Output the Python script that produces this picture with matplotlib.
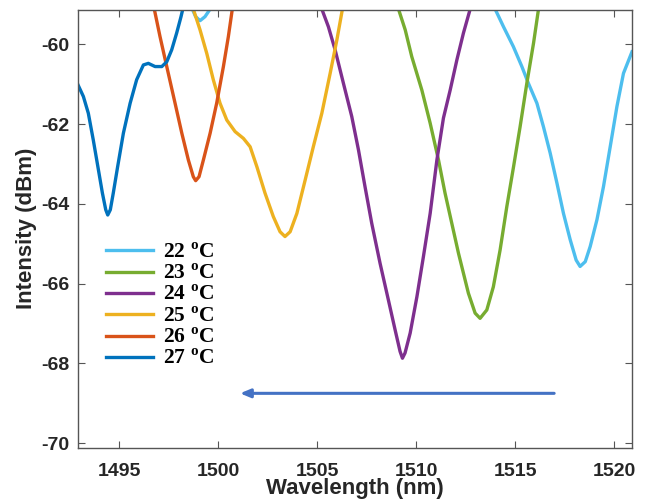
import numpy as np
import matplotlib
matplotlib.use("Agg")
import matplotlib.pyplot as plt

plt.rcParams['axes.unicode_minus'] = False
plt.rcParams['mathtext.fontset'] = 'custom'
plt.rcParams['mathtext.rm'] = 'Liberation Serif:bold'
plt.rcParams['mathtext.bf'] = 'Liberation Serif:bold'

# Data (wavelength nm, intensity dBm); nan splits segments
wl_22 = [1498.70, 1498.87, 1499.09, 1499.34, 1499.60, np.nan,
         1513.99, 1514.41, 1514.91, 1515.34, 1515.67, 1516.10, 1516.43, 1516.77,
         1517.11, 1517.44, 1517.78, 1518.08, 1518.28, 1518.54, 1518.79, 1519.13,
         1519.46, 1519.80, 1520.14, 1520.47, 1520.90]
db_22 = [-59.12, -59.31, -59.41, -59.31, -59.12, np.nan,
         -59.12, -59.56, -60.06, -60.56, -60.98, -61.48, -62.07, -62.73,
         -63.48, -64.24, -64.90, -65.41, -65.57, -65.45, -65.07, -64.40,
         -63.57, -62.57, -61.56, -60.73, -60.19]

wl_23 = [1509.11, 1509.45, 1509.78, 1510.29, 1510.71, 1511.13, 1511.46, 1512.14,
         1512.64, 1512.98, 1513.23, 1513.57, 1513.90, 1514.24, 1514.58, 1514.92,
         1515.25, 1515.59, 1515.93, 1516.18]
db_23 = [-59.12, -59.64, -60.31, -61.15, -61.98, -62.90, -63.73, -65.24,
         -66.24, -66.74, -66.87, -66.66, -66.08, -65.16, -64.07, -63.07,
         -62.07, -60.98, -59.97, -59.12]

wl_24 = [1505.24, 1505.57, 1505.91, 1506.33, 1506.75, 1507.09, 1507.42, 1507.76,
         1508.18, 1508.60, 1508.94, 1509.19, 1509.31, 1509.44, 1509.70, 1510.04,
         1510.37, 1510.71, 1511.05, 1511.38, 1511.72, 1512.06, 1512.39, 1512.73]
db_24 = [-59.12, -59.56, -60.14, -60.98, -61.81, -62.65, -63.57, -64.49,
         -65.49, -66.41, -67.16, -67.70, -67.87, -67.74, -67.24, -66.33,
         -65.32, -64.24, -62.90, -61.85, -61.15, -60.39, -59.72, -59.12]

wl_25 = [1498.75, 1499.09, 1499.43, 1499.76, 1500.10, 1500.44, 1500.86, 1501.28,
         1501.62, 1501.96, 1502.37, 1502.79, 1503.13, 1503.38, 1503.64, 1503.98,
         1504.40, 1504.81, 1505.24, 1505.66, 1506.00, 1506.28]
db_25 = [-59.12, -59.64, -60.23, -60.89, -61.48, -61.90, -62.19, -62.36,
         -62.57, -63.07, -63.73, -64.32, -64.70, -64.82, -64.70, -64.24,
         -63.40, -62.57, -61.73, -60.73, -59.89, -59.12]

wl_26 = [1496.78, 1497.07, 1497.41, 1497.83, 1498.17, 1498.50, 1498.75, 1498.87,
         1499.04, 1499.26, 1499.60, 1499.93, 1500.27, 1500.52, 1500.72]
db_26 = [-59.12, -59.81, -60.56, -61.48, -62.23, -62.90, -63.32, -63.42,
         -63.32, -62.90, -62.23, -61.48, -60.56, -59.81, -59.12]

wl_27 = [1492.93, 1493.20, 1493.45, 1493.70, 1493.96, 1494.16, 1494.33, 1494.43,
         1494.56, 1494.71, 1494.93, 1495.22, 1495.56, 1495.89, 1496.23, 1496.48,
         1496.82, 1497.16, 1497.41, 1497.66, 1497.91, 1498.13, 1498.22]
db_27 = [-61.02, -61.31, -61.73, -62.40, -63.15, -63.73, -64.15, -64.28,
         -64.15, -63.73, -63.07, -62.23, -61.48, -60.89, -60.52, -60.48,
         -60.56, -60.56, -60.44, -60.14, -59.72, -59.31, -59.12]

series = [
    ("22", wl_22, db_22, "#4DBEEE"),
    ("23", wl_23, db_23, "#77AC30"),
    ("24", wl_24, db_24, "#7E2F8E"),
    ("25", wl_25, db_25, "#EDB120"),
    ("26", wl_26, db_26, "#D95319"),
    ("27", wl_27, db_27, "#0072BD"),
]

# shift arrow (nm, dBm)
arrow_start = (1516.97, -68.75)
arrow_end = (1501.11, -68.75)

fig = plt.figure(figsize=(6.47, 5.0), dpi=100)
ax = fig.add_axes([0.1206, 0.104, 0.8562, 0.877])

for temp, x, y, c in series:
    ax.plot(x, y, color=c, lw=2.4, label=temp + r" $^{\mathrm{o}}$C",
            solid_joinstyle='round')

ax.annotate("", xy=arrow_end, xytext=arrow_start,
            arrowprops=dict(arrowstyle="-|>,head_length=0.6,head_width=0.25",
                            color="#4472C4", lw=2.2, shrinkA=0, shrinkB=0))

ax.set_xlim(1492.93, 1520.9)
ax.set_ylim(-70.12, -59.13)
ax.set_xticks([1495, 1500, 1505, 1510, 1515, 1520])
ax.set_yticks([-70, -68, -66, -64, -62, -60])

tick_color = "#262626"
for s in ax.spines.values():
    s.set_color("#555555")
    s.set_linewidth(1.0)
ax.tick_params(direction='in', top=True, right=True, length=5, width=0.8,
               colors="#555555", labelcolor=tick_color, labelsize=14)
ax.tick_params(axis='x', pad=11)
ax.tick_params(axis='y', pad=6)
for lab in ax.get_xticklabels() + ax.get_yticklabels():
    lab.set_fontfamily('Liberation Sans')
    lab.set_fontweight('bold')

ax.set_xlabel("Wavelength (nm)", fontsize=16, fontweight='bold',
              family='Liberation Sans', color=tick_color, labelpad=-1.5)
ax.set_ylabel("Intensity (dBm)", fontsize=16, fontweight='bold',
              family='Liberation Sans', color=tick_color, labelpad=3)

leg = ax.legend(loc='upper left', bbox_to_anchor=(0.035, 0.488), frameon=False,
                handlelength=2.2, handletextpad=0.45, labelspacing=0.06,
                borderaxespad=0,
                prop={'family': 'Liberation Serif', 'weight': 'bold', 'size': 15.5})

fig.savefig("out.png", dpi=100)
